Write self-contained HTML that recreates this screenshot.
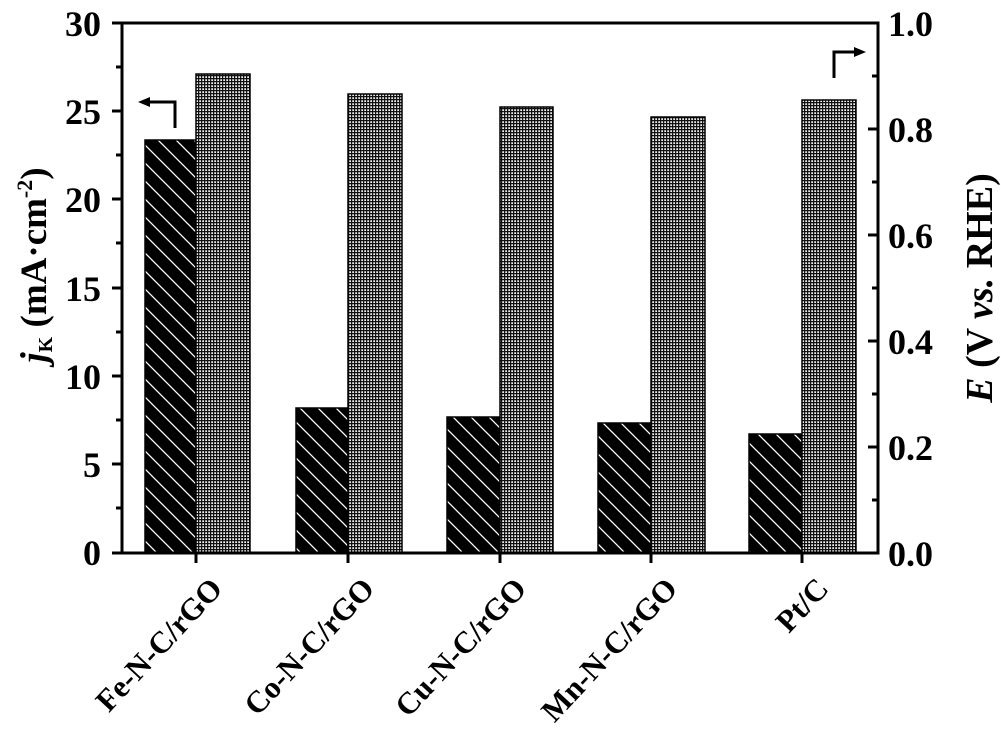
<!DOCTYPE html>
<html><head><style>body{margin:0;background:#fff}svg{display:block}</style></head><body>
<svg width="1001" height="744" viewBox="0 0 1001 744" xmlns="http://www.w3.org/2000/svg" font-family="Liberation Serif, serif" font-weight="bold">
<defs>
<pattern id="hatch" width="18" height="18" patternUnits="userSpaceOnUse">
<rect width="18" height="18" fill="#000"/>
<path d="M-2,-2 L20,20 M-2,16 L2,20 M16,-2 L20,2" stroke="#fff" stroke-width="1.3"/>
</pattern>
<pattern id="grid" width="3" height="3" patternUnits="userSpaceOnUse">
<rect width="3" height="3" fill="#eee"/>
<path d="M0,0.6 H3 M0.6,0 V3" stroke="#111" stroke-width="1.3"/>
</pattern>
</defs>
<g stroke="#000" stroke-width="1.5">
<rect x="145" y="140" width="51" height="413" fill="url(#hatch)"/>
<rect x="196" y="74" width="54" height="479" fill="url(#grid)"/>
<rect x="296" y="408" width="52" height="145" fill="url(#hatch)"/>
<rect x="348" y="94" width="54" height="459" fill="url(#grid)"/>
<rect x="447" y="417" width="53" height="136" fill="url(#hatch)"/>
<rect x="500" y="107" width="53" height="446" fill="url(#grid)"/>
<rect x="598" y="423" width="53" height="130" fill="url(#hatch)"/>
<rect x="651" y="117" width="54" height="436" fill="url(#grid)"/>
<rect x="749" y="434" width="53" height="119" fill="url(#hatch)"/>
<rect x="802" y="100" width="54" height="453" fill="url(#grid)"/>
</g>
<g stroke="#000" stroke-width="3" fill="none">
<rect x="122" y="23" width="756" height="530"/>
<path d="M112,23H122M112,111H122M112,199H122M112,288H122M112,376H122M112,464H122M112,553H122"/>
<path d="M116,67H122M116,155H122M116,243H122M116,332H122M116,420H122M116,508H122"/>
<path d="M868,23H878M868,129H878M868,235H878M868,341H878M868,447H878"/>
<path d="M872,76H878M872,182H878M872,288H878M872,394H878M872,500H878"/>
<path d="M196,553V563M348,553V563M500,553V563M651,553V563M802,553V563"/>
<path d="M175,128V102H144"/>
<path d="M834,78V52H860"/>
</g>
<polygon points="138,102 150,97 150,107" fill="#000"/>
<polygon points="866,52 854,47 854,57" fill="#000"/>
<g font-size="36" text-anchor="end">
<text x="101" y="36">30</text><text x="101" y="124">25</text><text x="101" y="212">20</text><text x="101" y="301">15</text><text x="101" y="389">10</text><text x="101" y="477">5</text><text x="101" y="565">0</text>
</g>
<g font-size="36">
<text x="888" y="36">1.0</text><text x="888" y="142">0.8</text><text x="888" y="248">0.6</text><text x="888" y="354">0.4</text><text x="888" y="460">0.2</text><text x="888" y="566">0.0</text>
</g>
<g font-size="31" text-anchor="end">
<text transform="translate(224,590) rotate(-47)">Fe-N-C/rGO</text>
<text transform="translate(376,590) rotate(-47)">Co-N-C/rGO</text>
<text transform="translate(528,590) rotate(-47)">Cu-N-C/rGO</text>
<text transform="translate(679,590) rotate(-47)">Mn-N-C/rGO</text>
<text transform="translate(830,590) rotate(-47)">Pt/C</text>
</g>
<text transform="translate(46,265) rotate(-90)" font-size="37" text-anchor="middle"><tspan font-style="italic">j</tspan><tspan font-size="20" dy="6">K</tspan><tspan dy="-6"> (mA·cm</tspan><tspan font-size="22" dy="-14">-2</tspan><tspan dy="14">)</tspan></text>
<text transform="translate(992,288) rotate(-90)" font-size="38" text-anchor="middle"><tspan font-style="italic">E</tspan> (V <tspan font-style="italic">vs.</tspan> RHE)</text>
</svg>
</body></html>
